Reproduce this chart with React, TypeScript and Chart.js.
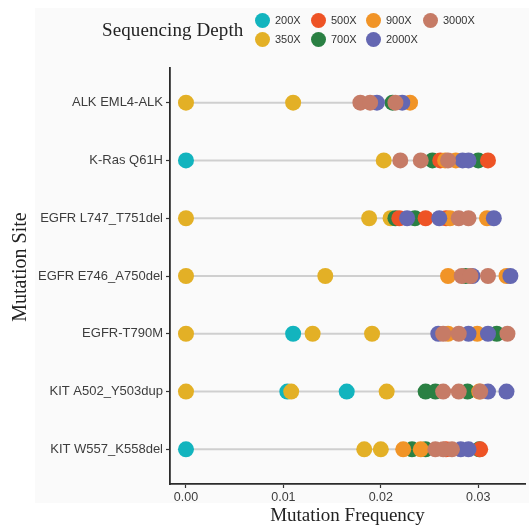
import React, { useEffect, useRef } from "react";
import { Chart, registerables } from "chart.js";
Chart.register(...registerables);

const sites = [
  "ALK EML4-ALK",
  "K-Ras Q61H",
  "EGFR L747_T751del",
  "EGFR E746_A750del",
  "EGFR-T790M",
  "KIT A502_Y503dup",
  "KIT W557_K558del",
];
const depthLabels = ["200X", "350X", "500X", "700X", "900X", "2000X", "3000X"];
const depthColors = ["#12b4be", "#e3b026", "#ee5325", "#2a8043", "#f19427", "#6467b2", "#c67b66"];
const xTicks = [0, 0.01, 0.02, 0.03];
const xTickLabels = ["0.00", "0.01", "0.02", "0.03"];
const yTitle = "Mutation Site";
const xTitle = "Mutation Frequency";

// values per site row (same order as sites)
const freq200X = [[], [0], [], [], [0.011], [0.0104, 0.0165], [0]];
const freq350X = [[0, 0.011], [0.0203], [0, 0.0188, 0.021], [0, 0.0143], [0, 0.013, 0.0191], [0, 0.0108, 0.0206], [0.0183, 0.02]];
const freq500X = [[], [0.0261, 0.031], [0.0219, 0.0246, 0.0267], [], [], [], [0.0267, 0.0302]];
const freq700X = [[0.0212], [0.0253, 0.03], [0.0215, 0.0235], [0.0287], [0.0319], [0.0246, 0.0256, 0.0289], [0.0232, 0.0246, 0.0301]];
const freq900X = [[0.023], [0.0266, 0.0277], [0.0271, 0.0309], [0.0269, 0.0329], [0.0269, 0.0299], [0.0301], [0.0223, 0.0241]];
const freq2000X = [[0.0196, 0.0222], [0.0284, 0.029], [0.0227, 0.026, 0.0316], [0.0294, 0.0333], [0.0259, 0.029, 0.031], [0.031, 0.0329], [0.0282, 0.029]];
const freq3000X = [[0.0179, 0.0189, 0.0215], [0.022, 0.0241, 0.0269], [0.028, 0.029], [0.0283, 0.0292, 0.031], [0.0264, 0.028, 0.033], [0.0264, 0.028, 0.0302], [0.0256, 0.0264, 0.0273]];

const allDepths = [freq200X, freq350X, freq500X, freq700X, freq900X, freq2000X, freq3000X];
const drawOrder = [0, 1, 3, 2, 4, 5, 6];

const bgPlugin = {
  id: "bgPanel",
  beforeDraw(chart: any) {
    const ctx = chart.ctx;
    ctx.save();
    ctx.fillStyle = "#ffffff";
    ctx.fillRect(0, 0, chart.width, chart.height);
    ctx.fillStyle = "#fafafa";
    ctx.fillRect(35, 8, chart.width - 35, 495);
    ctx.restore();
  },
  afterDraw(chart: any) {
    const ctx = chart.ctx;
    ctx.save();
    ctx.fillStyle = "#222222";
    ctx.font = "20px 'Liberation Serif'";
    ctx.textAlign = "center";
    ctx.textBaseline = "middle";
    ctx.translate(21, 267);
    ctx.rotate(-Math.PI / 2);
    ctx.fillText(yTitle, 0, 0);
    ctx.restore();
  },
};

export default function App() {
  const ref = useRef<HTMLCanvasElement>(null);
  useEffect(() => {
    if (!ref.current) return;
    const lineSets = sites.map((_, i) => {
      let mx = 0;
      let mn = Infinity;
      allDepths.forEach((d) => d[i].forEach((v) => { mx = Math.max(mx, v); mn = Math.min(mn, v); }));
      return {
        type: "line" as const,
        label: "seg" + i,
        data: [{ x: mn, y: i }, { x: mx, y: i }],
        borderColor: "#cfcfcf",
        borderWidth: 2,
        pointRadius: 0,
        order: 100,
      };
    });
    const pointSets = drawOrder.map((k, idx) => ({
      type: "scatter" as const,
      label: depthLabels[k],
      data: allDepths[k].flatMap((vals, row) => vals.map((v) => ({ x: v, y: row }))),
      backgroundColor: depthColors[k],
      borderWidth: 0,
      pointRadius: 8,
      order: 50 - idx,
    }));
    const chart = new Chart(ref.current, {
      type: "scatter",
      data: { datasets: [...lineSets, ...pointSets] as any },
      plugins: [bgPlugin],
      options: {
        animation: false,
        responsive: false,
        devicePixelRatio: 1,
        layout: { autoPadding: false, padding: { top: 68, right: 4, left: 0, bottom: 0 } },
        plugins: { legend: { display: false }, tooltip: { enabled: false } },
        scales: {
          x: {
            type: "linear",
            min: -0.00164,
            max: 0.0348,
            afterBuildTicks: (s: any) => { s.ticks = xTicks.map((v) => ({ value: v })); },
            afterFit: (s: any) => { s.height = 43; s.paddingRight = 0; s.paddingLeft = 0; },
            ticks: {
              callback: (v: any) => xTickLabels[xTicks.indexOf(v)] ?? "",
              color: "#3d3d3d",
              font: { family: "Liberation Sans", size: 12.5 },
              padding: 2,
              maxRotation: 0,
            },
            grid: { drawOnChartArea: false, tickLength: 4, color: "#333333", tickWidth: 1.2 },
            border: { color: "#2b2b2b", width: 1.8 },
            title: {
              display: true,
              text: xTitle,
              color: "#222222",
              font: { family: "Liberation Serif", size: 19, lineHeight: 1 },
              padding: { top: 0, bottom: 1 },
            },
          },
          y: {
            type: "linear",
            min: -0.6,
            max: 6.6,
            reverse: true,
            afterBuildTicks: (s: any) => { s.ticks = sites.map((_, i) => ({ value: i })); },
            afterFit: (s: any) => { s.width = 170; s.paddingTop = 0; s.paddingBottom = 0; },
            ticks: {
              callback: (v: any) => sites[v] ?? "",
              color: "#3d3d3d",
              font: { family: "Liberation Sans", size: 13 },
              padding: 3,
            },
            grid: { drawOnChartArea: false, tickLength: 4, color: "#333333", tickWidth: 1.2 },
            border: { color: "#2b2b2b", width: 1.8 },
          },
        },
      },
    });
    return () => chart.destroy();
  }, []);

  const legendPos = [
    [262, 20], [262, 39], [318, 20], [318, 39], [373, 20], [373, 39], [430, 20],
  ];
  return (
    <div style={{ position: "fixed", left: 0, top: 0, width: 529, height: 527 }}>
      <canvas ref={ref} width={529} height={527} style={{ display: "block" }} />
      <div
        style={{
          position: "absolute", left: 102, top: 19, fontFamily: "Liberation Serif",
          fontSize: 19, lineHeight: "22px", color: "#222", whiteSpace: "nowrap", letterSpacing: "0.1px",
        }}
      >
        Sequencing Depth
      </div>
      {depthLabels.map((lab, k) => (
        <React.Fragment key={lab}>
          <div
            style={{
              position: "absolute", left: legendPos[k][0] - 7.5, top: legendPos[k][1] - 7.5,
              width: 15, height: 15, borderRadius: "50%", background: depthColors[k],
            }}
          />
          <div
            style={{
              position: "absolute", left: legendPos[k][0] + 13, top: legendPos[k][1] - 7,
              fontFamily: "Liberation Sans", fontSize: 11, lineHeight: "14px", color: "#333",
              whiteSpace: "nowrap",
            }}
          >
            {lab}
          </div>
        </React.Fragment>
      ))}
    </div>
  );
}
